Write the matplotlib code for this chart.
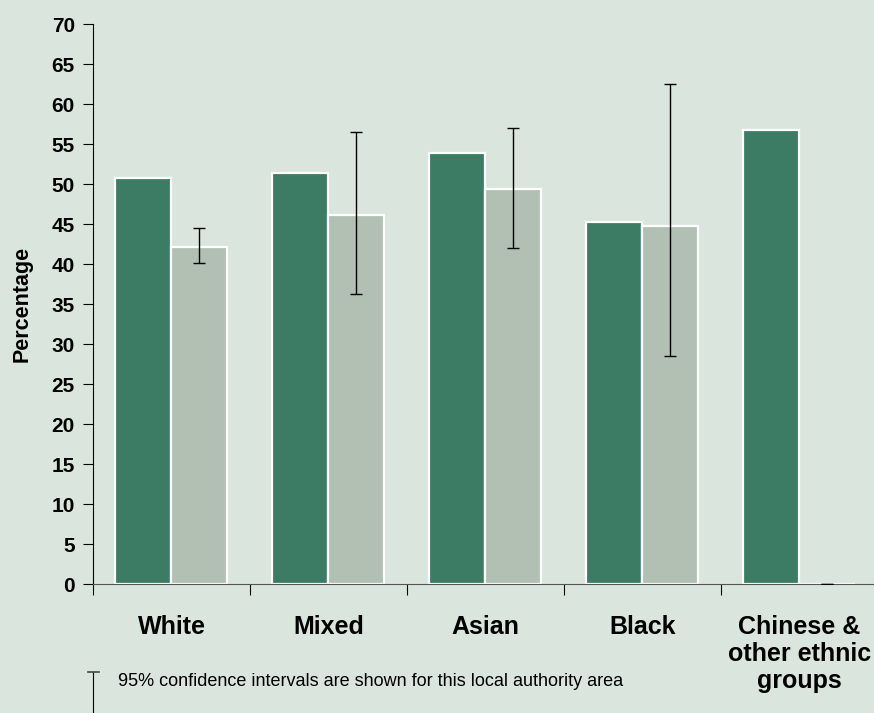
import numpy as np
import matplotlib.pyplot as plt
from matplotlib.ticker import MultipleLocator, FixedLocator

# values
categories = ['White', 'Mixed', 'Asian', 'Black', 'Chinese &\nother ethnic\ngroups']
area_pct = [50.75, 51.4, 53.9, 45.3, 56.75]
region_pct = [42.1, 46.1, 49.4, 44.75, 0.0]
ci_low = [40.1, 36.3, 42.0, 28.5, 0.0]
ci_high = [44.5, 56.5, 57.0, 62.5, 0.0]

bg = '#dae6dd'
dark = '#3c7c65'
light = '#b1c0b3'

fig = plt.figure(figsize=(8.74, 7.13), dpi=100, facecolor=bg)
ax = fig.add_axes([93 / 874, 129 / 713, 785 / 874, 560 / 713])
ax.set_facecolor(bg)

x = np.arange(len(categories))
w = 0.357
ax.bar(x + 0.14, area_pct, width=w, align='edge', color=dark,
       edgecolor='white', linewidth=1.6, zorder=2)
ax.bar(x + 0.14 + w, region_pct, width=w, align='edge', color=light,
       edgecolor='white', linewidth=1.6, zorder=2)

mid = x + 0.14 + 1.5 * w
region = np.array(region_pct)
yerr = [region - np.array(ci_low), np.array(ci_high) - region]
ax.errorbar(mid, region, yerr=yerr, fmt='none', ecolor='black',
            elinewidth=1, capsize=4, capthick=1, zorder=3)

ax.set_xlim(0, 5)
ax.set_ylim(0, 70)
ax.yaxis.set_major_locator(MultipleLocator(5))
ax.xaxis.set_major_locator(FixedLocator(range(5)))
ax.xaxis.set_minor_locator(FixedLocator(x + 0.5))
ax.set_xticklabels([], minor=False)
ax.set_xticklabels(categories, minor=True, fontsize=18, fontweight='bold',
                   family='Liberation Sans', linespacing=1.17)
ax.tick_params(axis='x', which='minor', length=0, pad=22)
ax.tick_params(axis='x', which='major', length=8, direction='out', width=0.8)
ax.tick_params(axis='y', length=7, direction='out', width=0.8, pad=6)
for lab in ax.get_yticklabels():
    lab.set_fontsize(15)
    lab.set_fontweight('bold')
    lab.set_family('Liberation Sans')

for s in ['top', 'right']:
    ax.spines[s].set_visible(False)
ax.spines['left'].set_linewidth(0.8)
ax.spines['bottom'].set_linewidth(0.8)
ax.spines['bottom'].set_color('#555555')

ax.set_ylabel('Percentage', fontsize=15.5, fontweight='bold',
              family='Liberation Sans')
ax.yaxis.set_label_coords(-0.077, 0.5)

# confidence interval key at the bottom
fig.add_artist(plt.Line2D([93 / 874, 93 / 874], [0, 41 / 713], color='black', lw=0.8))
fig.add_artist(plt.Line2D([88 / 874, 99 / 874], [41 / 713, 41 / 713], color='#444444', lw=1.2))
fig.text(118 / 874, 32 / 713, '95% confidence intervals are shown for this local authority area',
         fontsize=13, family='Liberation Sans', va='center')

fig.savefig('out.png', dpi=100, facecolor=bg)
